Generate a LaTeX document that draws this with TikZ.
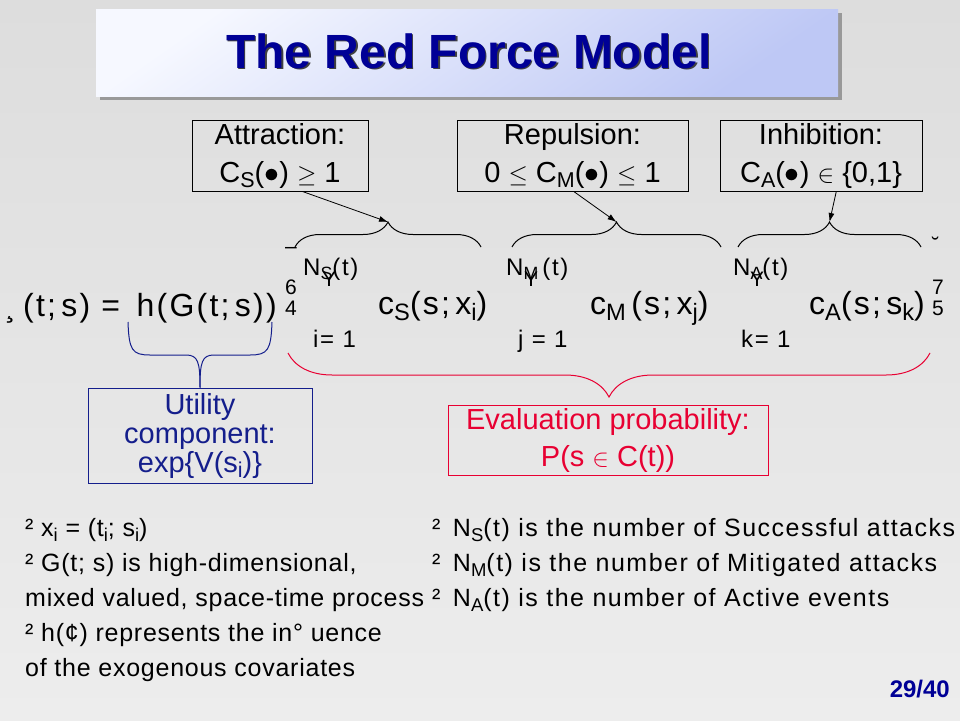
\documentclass[tikz,border=0pt]{standalone}
\usepackage{fontspec}
\setmainfont{Liberation Sans}
\newfontfamily\eqfont[LetterSpace=7]{Liberation Sans}
\newfontfamily\notefont[LetterSpace=3]{Liberation Sans}
\newfontfamily\notewide[LetterSpace=6]{Liberation Sans}
\usetikzlibrary{positioning,arrows.meta,decorations.pathreplacing}

\definecolor{titleblue}{RGB}{0,0,150}
\definecolor{utilblue}{RGB}{20,30,140}
\definecolor{evalred}{RGB}{232,0,50}
\definecolor{bgtop}{RGB}{221,221,221}
\definecolor{bgbot}{RGB}{237,237,237}
\definecolor{boxlight}{RGB}{246,248,255}
\definecolor{boxmid}{RGB}{236,239,253}
\definecolor{boxdark}{RGB}{190,200,245}

\makeatletter
\newcommand{\lo}[1]{\raisebox{-.2em}{\fontsize{\fpeval{.74*\f@size}}{1}\selectfont #1}}
\makeatother
\newcommand{\blt}{\scalebox{1.2}{$\bullet$}}

\tikzset{
  forcebox/.style={draw=black, line width=1pt, minimum height=71pt, inner sep=0pt,
    align=center, font=\fontsize{29}{38}\selectfont},
  eqtxt/.style={anchor=base west, inner sep=0pt, font=\eqfont\fontsize{32}{36}\selectfont},
  limtxt/.style={anchor=base west, inner sep=0pt, font=\eqfont\fontsize{24}{28}\selectfont},
  piece/.style={anchor=base west, inner sep=0pt, font=\fontsize{21}{24}\selectfont},
  notetxt/.style={anchor=base west, inner sep=0pt, font=\notefont\fontsize{25}{28}\selectfont},
  notewtxt/.style={notetxt, font=\notewide\fontsize{25}{28}\selectfont},
  brc/.style={decorate, decoration={brace, amplitude=25pt}, line width=1pt},
  arr/.style={-{Latex[length=9pt,width=6pt]}, line width=0.8pt}
}

\begin{document}
\begin{tikzpicture}[x=1pt, y=-1pt]
  \useasboundingbox (0,0) rectangle (960,720);
  \shade[top color=bgtop, bottom color=bgbot] (0,0) rectangle (960,720);

  % title
  \fill[black!40] (100,13) rectangle (842,100);
  \shade[top color=boxlight, middle color=boxmid, bottom color=boxdark, shading angle=35]
    (96,9) rectangle (838,96);
  \node[font=\bfseries\fontsize{48}{56}\selectfont, text=black!75] (titleshadow) at (470.5,52.5) {The Red Force Model};
  \node[font=\bfseries\fontsize{48}{56}\selectfont, text=titleblue] (title) at (469,51) {The Red Force Model};

  % the three forces
  \node[forcebox, minimum width=176pt] (attr) at (280,155.5) {Attraction:\\C\lo{S}(\blt) $\geq$ 1};
  \node[forcebox, minimum width=231pt] (rep) at (572.5,155.5) {Repulsion:\\0 $\leq$ C\lo{M}(\blt) $\leq$ 1};
  \node[forcebox, minimum width=202pt] (inh) at (821,155.5) {Inhibition:\\C\lo{A}(\blt) $\in$ \{0,1\}};

  \coordinate (bSl) at (295,247);  \coordinate (bSr) at (481,247);  \coordinate (tipS) at (388,222);
  \coordinate (bMl) at (512,247);  \coordinate (bMr) at (721,247);  \coordinate (tipM) at (616.5,222);
  \coordinate (bAl) at (738,247);  \coordinate (bAr) at (921,247);  \coordinate (tipA) at (829.5,222);
  \draw[brc] (bSl) -- (bSr);
  \draw[brc] (bMl) -- (bMr);
  \draw[brc] (bAl) -- (bAr);
  \draw[arr] (attr.-58) -- (tipS);
  \draw[arr] (rep.-88) -- (tipM);
  \draw[arr] (inh.-67) -- (tipA);

  % intensity
  \node[eqtxt] (lam) at (5,316) {¸};
  \node[eqtxt] (lhs) at (23,316) {(t;\,s) = \,h(G(t;\,s))};
  \node[piece] (brtop) at (285,253) {–};
  \node[piece] (brsix) at (285,294) {6};
  \node[piece] (brfour) at (285,315) {4};
  \node[limtxt] (upS) at (303,275) {N\lo{S}(t)};
  \node[piece] (sumS) at (322,286) {Y};
  \node[limtxt] (loS) at (313,347) {i= 1};
  \node[eqtxt] (termS) at (378,314) {c\lo{S}(s;\,x\lo{i})};
  \node[limtxt] (upM) at (506,275) {N\lo{M}\,(t)};
  \node[piece] (sumM) at (524,286) {Y};
  \node[limtxt] (loM) at (518,347) {j = 1};
  \node[eqtxt] (termM) at (590,314) {c\lo{M}\,(s;\,x\lo{j})};
  \node[limtxt] (upA) at (733,275) {N\lo{A}(t)};
  \node[piece] (sumA) at (750,286) {Y};
  \node[limtxt] (loA) at (741,347) {k= 1};
  \node[eqtxt] (termA) at (809,314) {c\lo{A}(s;\,s\lo{k})};
  \node[piece] (brbreve) at (932,252) {˘};
  \node[piece] (brseven) at (932,294) {7};
  \node[piece] (brfive) at (932,315) {5};

  % utility and evaluation
  \node[draw=utilblue, line width=1pt, minimum width=224pt, minimum height=95pt, inner sep=0pt, align=center,
        text=utilblue, font=\fontsize{29}{29}\selectfont] (util) at (200,435.5)
        {Utility\\component:\\exp\{V(s\lo{i})\}};
  \node[draw=evalred, line width=1pt, minimum width=320pt, minimum height=70pt, inner sep=0pt, align=center,
        text=evalred, font=\fontsize{29}{37}\selectfont] (eval) at (608,440)
        {Evaluation probability:\\P(s $\in$ C(t))};

  \coordinate (hL) at (128,322);
  \coordinate (hR) at (272,322);
  \draw[utilblue, line width=1pt] (hL) .. controls (129,350) and (132,355) .. (150,355) -- (186,355)
    .. controls (198,355) and (200,362) .. (util.north);
  \draw[utilblue, line width=1pt] (hR) .. controls (271,350) and (268,355) .. (250,355) -- (214,355)
    .. controls (202,355) and (200,362) .. (util.north);

  \coordinate (eL) at (288,353);
  \coordinate (eR) at (930,353);
  \draw[brc, draw=evalred, decoration={brace, mirror, amplitude=44pt}] (eL) -- (eR);

  % notes
  \node[notetxt] (n1) at (25,536) {² x\lo{i} = (t\lo{i}; s\lo{i})};
  \node[notetxt] (n2) at (25,571) {² G(t; s) is high-dimensional,};
  \node[notetxt] (n3) at (25,606) {mixed valued, space-time process};
  \node[notetxt] (n4) at (25,641) {² h(¢) represents the in° uence};
  \node[notetxt] (n5) at (25,676) {of the exogenous covariates};
  \node[notewtxt] (m1) at (432,536) {²\hspace{4pt} N\lo{S}(t) is the number of Successful attacks};
  \node[notewtxt] (m2) at (432,571) {²\hspace{4pt} N\lo{M}(t) is the number of Mitigated attacks};
  \node[notewtxt] (m3) at (432,606) {²\hspace{4pt} N\lo{A}(t) is the number of Active events};

  \node[anchor=base east, inner sep=0pt, font=\bfseries\fontsize{24}{28}\selectfont, text=titleblue] (pg) at (950,697) {29/40};
\end{tikzpicture}
\end{document}
